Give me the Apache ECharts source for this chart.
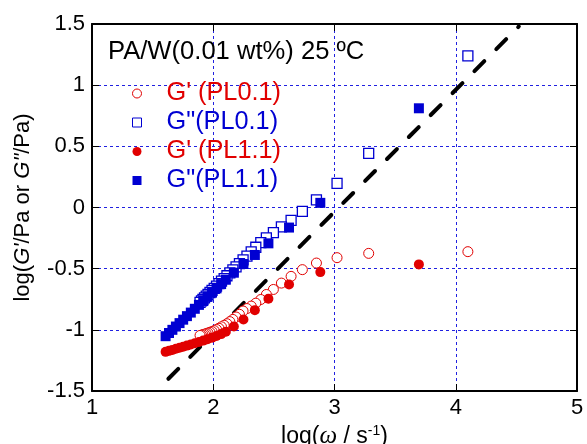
<!DOCTYPE html>
<html><head><meta charset="utf-8">
<script src="https://cdn.jsdelivr.net/npm/echarts@6/dist/echarts.min.js"></script>
<style>html,body{margin:0;padding:0;background:#fff}#c{width:587px;height:444px}</style>
</head><body><div id="c"></div>
<script>
// ---- data ----
const xTicks = [1, 2, 3, 4, 5];
const yTicks = [-1.5, -1, -0.5, 0, 0.5, 1, 1.5];
const seriesNames = ["G' (PL0.1)", 'G"(PL0.1)', "G' (PL1.1)", 'G"(PL1.1)'];
// log(omega) for PL0.1 (sweep from high to low frequency)
const logW_PL01 = [4.100, 3.282, 3.021, 2.851, 2.735, 2.642, 2.562, 2.496, 2.438, 2.392, 2.351, 2.313, 2.278, 2.246, 2.216, 2.188, 2.162, 2.137, 2.113, 2.090, 2.068, 2.047, 2.027, 2.008, 1.990, 1.973, 1.957, 1.942, 1.928, 1.915, 1.903, 1.891];
const logGp_PL01 = [-0.361, -0.375, -0.410, -0.454, -0.508, -0.563, -0.618, -0.670, -0.711, -0.752, -0.782, -0.806, -0.826, -0.846, -0.873, -0.895, -0.915, -0.933, -0.950, -0.963, -0.975, -0.987, -0.997, -1.006, -1.014, -1.020, -1.026, -1.031, -1.035, -1.039, -1.043, -1.046];
const logGpp_PL01 = [1.240, 0.443, 0.197, 0.062, -0.032, -0.105, -0.159, -0.205, -0.248, -0.287, -0.325, -0.363, -0.397, -0.428, -0.458, -0.485, -0.510, -0.535, -0.558, -0.581, -0.602, -0.623, -0.642, -0.661, -0.678, -0.695, -0.711, -0.725, -0.739, -0.752, -0.763, -0.775];
// log(omega) for PL1.1
const logW_PL11 = [3.696, 2.883, 2.625, 2.455, 2.343, 2.249, 2.170, 2.104, 2.065, 2.027, 1.990, 1.953, 1.917, 1.882, 1.848, 1.815, 1.783, 1.752, 1.722, 1.692, 1.663, 1.635, 1.607];
const logGp_PL11 = [-0.465, -0.528, -0.629, -0.746, -0.839, -0.916, -0.973, -1.016, -1.035, -1.050, -1.064, -1.076, -1.088, -1.099, -1.110, -1.120, -1.129, -1.138, -1.146, -1.155, -1.164, -1.172, -1.180];
const logGpp_PL11 = [0.811, 0.038, -0.164, -0.293, -0.388, -0.462, -0.533, -0.590, -0.626, -0.661, -0.696, -0.730, -0.764, -0.796, -0.828, -0.859, -0.888, -0.917, -0.945, -0.973, -1.000, -1.026, -1.052];
// slope-1 guide line end points
const guideX = [1.63, 4.52];
const guideY = [-1.40, 1.48];

const RED = '#e10000', BLUE = '#0000d2';
const FONT = 'Liberation Sans, Arial, sans-serif';
const zip = (a, b) => a.map((v, i) => [v, b[i]]);

const chart = echarts.init(document.getElementById('c'), null, {renderer: 'canvas'});

const axisCommon = {
  type: 'value',
  axisLine: {show: true, onZero: false, lineStyle: {color: '#000', width: 2}},
  axisTick: {show: true, inside: true, length: 7, lineStyle: {color: '#000', width: 1}},
};
const gridLine = {show: true, showMinLine: false, showMaxLine: false, lineStyle: {color: '#2020e0', width: 1, type: [3, 3]}};

chart.setOption({
  animation: false,
  backgroundColor: '#fff',
  grid: {left: 92, right: 10, top: 24, bottom: 53, containLabel: false, outerBoundsMode: 'none'},
  title: {
    text: 'PA/W(0.01 wt%) 25 ºC', left: 103, top: 34,
    textStyle: {fontFamily: FONT, fontSize: 25.6, fontWeight: 'normal', color: '#000'}
  },
  legend: {
    orient: 'vertical', left: 127, top: 76, itemGap: 4, itemWidth: 9, itemHeight: 9,
    textStyle: {fontFamily: FONT, fontSize: 25.3, lineHeight: 24, padding: [0, 0, 0, 20]},
    data: [
      {name: seriesNames[0], icon: 'circle', itemStyle: {color: '#fff', borderColor: RED, borderWidth: 1}, textStyle: {color: RED}},
      {name: seriesNames[1], icon: 'rect', itemStyle: {color: '#fff', borderColor: BLUE, borderWidth: 1}, textStyle: {color: BLUE}},
      {name: seriesNames[2], icon: 'circle', itemStyle: {color: RED}, textStyle: {color: RED}},
      {name: seriesNames[3], icon: 'rect', itemStyle: {color: BLUE}, textStyle: {color: BLUE}}
    ]
  },
  xAxis: [
    Object.assign({}, axisCommon, {
      position: 'bottom', min: xTicks[0], max: xTicks[xTicks.length - 1], interval: 1,
      axisLabel: {color: '#000', fontFamily: FONT, fontSize: 22, margin: 6},
      splitLine: gridLine,
      name: '{n|log(}{w|ω}{n| / s}{s|-1}{n|)}', nameLocation: 'middle', nameGap: 30,
      nameTextStyle: {rich: {
        n: {fontFamily: FONT, fontSize: 23, color: '#000'},
        w: {fontFamily: 'Liberation Serif, serif', fontStyle: 'italic', fontSize: 25, color: '#000'},
        s: {fontFamily: FONT, fontSize: 14, color: '#000', verticalAlign: 'top', padding: [0, 0, 10, 0]}
      }}
    }),
    Object.assign({}, axisCommon, {
      position: 'top', min: xTicks[0], max: xTicks[xTicks.length - 1], interval: 1,
      axisLabel: {show: false}, splitLine: {show: false}
    })
  ],
  yAxis: [
    Object.assign({}, axisCommon, {
      position: 'left', min: yTicks[0], max: yTicks[yTicks.length - 1], interval: 0.5,
      axisLabel: {color: '#000', fontFamily: FONT, fontSize: 22, margin: 7},
      splitLine: gridLine,
      name: '{n|log(}{i|G\'}{n|/Pa or }{i|G"}{n|/Pa)}', nameLocation: 'middle', nameGap: 58,
      nameTextStyle: {rich: {
        n: {fontFamily: FONT, fontSize: 22, color: '#000'},
        i: {fontFamily: FONT, fontStyle: 'italic', fontSize: 22, color: '#000'}
      }}
    }),
    Object.assign({}, axisCommon, {
      position: 'right', min: yTicks[0], max: yTicks[yTicks.length - 1], interval: 0.5,
      axisLabel: {show: false}, splitLine: {show: false}
    })
  ],
  series: [
    {
      name: 'guide', type: 'line', data: zip(guideX, guideY), symbol: 'none', silent: true,
      lineStyle: {color: '#000', width: 4, type: [14, 17], cap: 'round'}, z: 1
    },
    {
      name: seriesNames[0], type: 'scatter', data: zip(logW_PL01, logGp_PL01), symbol: 'circle', symbolSize: 10,
      itemStyle: {color: '#fff', borderColor: RED, borderWidth: 1, opacity: 1}, z: 2
    },
    {
      name: seriesNames[1], type: 'scatter', data: zip(logW_PL01, logGpp_PL01), symbol: 'rect', symbolSize: 10,
      itemStyle: {color: '#fff', borderColor: BLUE, borderWidth: 1.3, opacity: 1}, z: 2
    },
    {
      name: seriesNames[2], type: 'scatter', data: zip(logW_PL11, logGp_PL11), symbol: 'circle', symbolSize: 10,
      itemStyle: {color: RED, opacity: 1}, z: 3
    },
    {
      name: seriesNames[3], type: 'scatter', data: zip(logW_PL11, logGpp_PL11), symbol: 'rect', symbolSize: 10,
      itemStyle: {color: BLUE, opacity: 1}, z: 3
    }
  ]
});
</script></body></html>
